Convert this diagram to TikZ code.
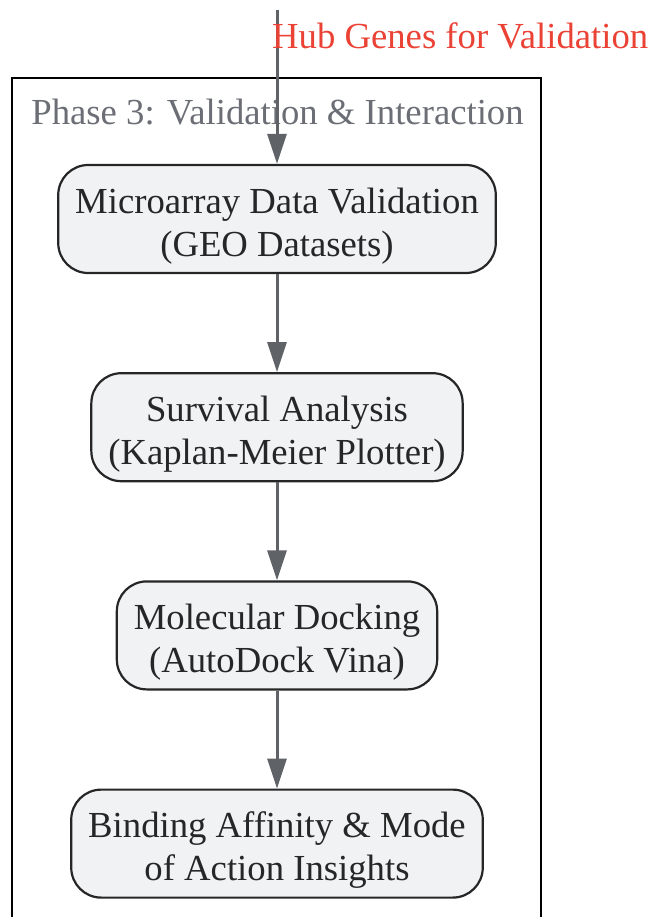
\documentclass[tikz,border=0pt]{standalone}
\usepackage{fontspec}
\setmainfont{Liberation Serif}
\usetikzlibrary{positioning, arrows.meta}
\definecolor{boxfill}{HTML}{F1F2F4}
\definecolor{linegray}{HTML}{5F6368}
\definecolor{titlegray}{HTML}{6B6E75}
\definecolor{hubred}{HTML}{EA4335}
\tikzset{
stepbox/.style={draw=black!85, text=black!85, line width=2.2pt, fill=boxfill, rounded corners=30pt,
    align=center, minimum height=108pt, inner xsep=17pt, inner ysep=4pt,
    execute at begin node={\rule{0pt}{82pt}}},
flow/.style={draw=linegray, line width=3pt, -{Triangle[length=30pt,width=19pt]}},
}
\newcommand{\bigtext}{\fontsize{36.7}{43}\selectfont}

\begin{document}
\begin{tikzpicture}[x=1pt, y=-1pt, node distance=98pt, font=\bigtext]
    \useasboundingbox (0,0) rectangle (657,917);
    \draw[line width=2.5pt] (12,78) rectangle (541,940);
    \node[text=titlegray, anchor=base] (phase) at (277.5,125) {Phase 3: Validation \& Interaction};

    \node[stepbox] (geo) at (277,219) {Microarray Data Validation\\(GEO Datasets)};
    \node[stepbox, below=of geo] (km) {Survival Analysis\\(Kaplan-Meier Plotter)};
    \node[stepbox, below=of km] (dock) {Molecular Docking\\(AutoDock Vina)};
    \node[stepbox, below=of dock] (bind) {Binding Affinity \& Mode\\of Action Insights};

    \coordinate (hub) at (277,10);
    \draw[flow] (hub) -- (geo);
    \node[text=hubred, anchor=base west, inner sep=0pt] (hublabel) at (272,49) {Hub Genes for Validation};

    \draw[flow] (geo) -- (km);
    \draw[flow] (km) -- (dock);
    \draw[flow] (dock) -- (bind);
\end{tikzpicture}
\end{document}
